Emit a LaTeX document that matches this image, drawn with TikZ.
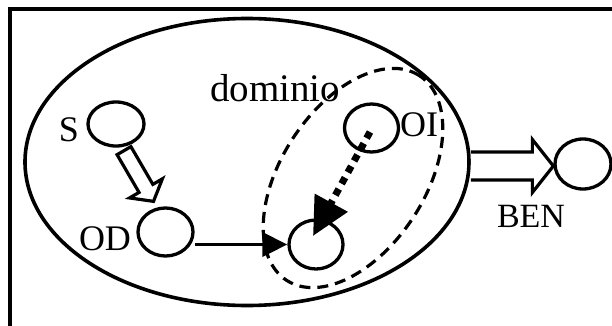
\documentclass[tikz,border=0pt]{standalone}
\usepackage{fontspec}
\setmainfont{Liberation Serif}
\usetikzlibrary{shapes.geometric,arrows.meta,calc}
\begin{document}
\begin{tikzpicture}[x=1pt,y=1pt,
  ring/.style={draw, ellipse, line width=3.3pt, inner sep=0pt},
  lbl/.style={inner sep=0pt, font=\fontsize{36}{36}\selectfont},
  hollow/.style={draw, fill=white, line width=3.2pt, line join=miter},
  solidarr/.style={line width=3.4pt, -{Triangle[length=25pt,width=24pt]}},
  dotarr/.style={line width=7pt, dash pattern=on 7pt off 6pt, -{Triangle[length=38pt,width=36pt]}},
  domline/.style={draw, ellipse, line width=3.2pt, dash pattern=on 11pt off 7pt, inner sep=0pt}]
\useasboundingbox (0,0) rectangle (612,-326);
\draw[line width=3.4pt] (10,-326) -- (10,-9) -- (612,-9);
% main ellipse and circles
\node[ring, line width=3.6pt, minimum width=444pt, minimum height=287pt] (big) at (247,-162) {};
\node[ring, minimum width=56pt, minimum height=44pt] (s) at (116,-124) {};
\node[ring, minimum width=55pt, minimum height=48pt] (od) at (165.5,-232) {};
\node[ring, minimum width=54pt, minimum height=49pt] (mid) at (316,-244.5) {};
\node[ring, minimum width=54pt, minimum height=48pt] (oi) at (371.5,-128) {};
\node[ring, minimum width=56pt, minimum height=50pt] (ben) at (583,-164) {};
% labels
\node[lbl] (ls) at (69,-130) {S};
\node[lbl] (lod) at (105,-239) {OD};
\node[lbl] (loi) at (419,-125) {OI};
\node[lbl, font=\fontsize{34}{34}\selectfont] (lben) at (531,-216) {BEN};
\node[lbl, font=\fontsize{39}{39}\selectfont, anchor=base] (ldom) at (275,-102) {dominio};
% dashed domain ellipse
\node[domline, rotate=57, minimum width=244pt, minimum height=144pt] (dom) at (353,-178) {};
% hollow arrow S -> OD
\coordinate (sa) at ($(s.south)+(8,-3)$);
\coordinate (st) at ($(od.north)+(-12,5)$);
\coordinate (sh) at ($(st)!15pt!(sa)$);
\draw[hollow] ($(sa)!8pt!90:(st)$) -- ($(sh)!8pt!90:(st)$) -- ($(sh)!19pt!90:(st)$) -- (st)
  -- ($(sh)!19pt!-90:(st)$) -- ($(sh)!8pt!-90:(st)$) -- ($(sa)!8pt!-90:(st)$) -- cycle;
% hollow arrow big -> BEN
\coordinate (ba) at ($(big.east)+(0,-4)$);
\coordinate (bt) at (ben.west |- ba);
\coordinate (bh) at ($(bt)!21pt!(ba)$);
\draw[hollow] ($(ba)!14pt!90:(bt)$) -- ($(bh)!14pt!90:(bt)$) -- ($(bh)!26.5pt!90:(bt)$) -- (bt)
  -- ($(bh)!26.5pt!-90:(bt)$) -- ($(bh)!14pt!-90:(bt)$) -- ($(ba)!14pt!-90:(bt)$);
% solid arrow OD -> mid
\draw[solidarr] (mid.west -| od.east) -- (mid.west);
% dotted arrow OI -> mid
\draw[dotarr] ($(oi.center)+(-1.5,-4)$) -- ($(mid.center)+(-3,8.5)$);
\end{tikzpicture}
\end{document}
